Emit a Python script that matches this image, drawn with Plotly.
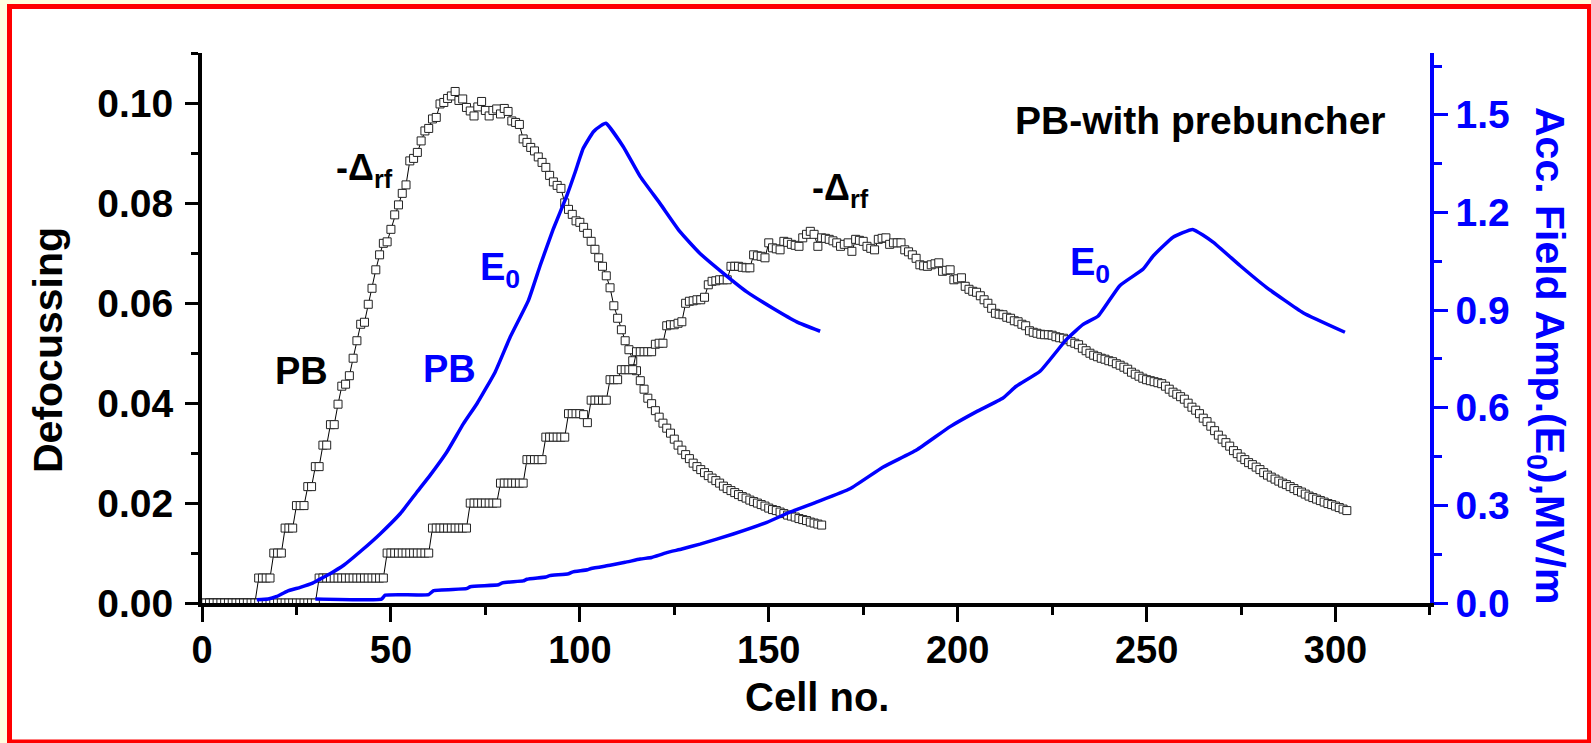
import plotly.graph_objects as go

# ---------------- data ----------------
# Defocussing (-Delta_rf), first PB case, one value per cell starting at cell 1
defoc_pb1 = [
    0, 0, 0, 0, 0, 0, 0, 0, 0, 0, 0, 0, 0, 0,
    0.005, 0.005, 0.005, 0.005,
    0.010, 0.010, 0.010,
    0.015, 0.015, 0.015,
    0.0195, 0.0195, 0.0195,
    0.0233, 0.0233,
    0.0273, 0.0273,
    0.0316, 0.0316,
    0.0357, 0.0357,
    0.0398, 0.0434, 0.0438, 0.0455, 0.0490,
    0.0525, 0.0558, 0.0562, 0.0598, 0.0630, 0.0667, 0.0697, 0.0720, 0.0723, 0.0748,
    0.0777, 0.0797, 0.0820, 0.0837, 0.0885, 0.0890, 0.0902, 0.0925, 0.0945, 0.0950,
    0.0969, 0.0972, 0.0999, 0.1002, 0.1010, 0.1015, 0.1024, 0.1006, 0.1009, 0.0992,
    0.0985, 0.0975, 0.0993, 0.1004, 0.0986, 0.0975, 0.0986, 0.0989, 0.0979, 0.0990,
    0.0984, 0.0965, 0.0962, 0.0958, 0.0929, 0.0922, 0.0912, 0.0905, 0.0893, 0.0882,
    0.0872, 0.0856, 0.0843, 0.0836, 0.0830, 0.0801, 0.0788, 0.0778, 0.0765, 0.0762,
    0.0752, 0.0740, 0.0724, 0.0708, 0.0691, 0.0674, 0.0655, 0.0631, 0.0595, 0.0570,
    0.0547, 0.0525, 0.0507, 0.0485, 0.0465, 0.0445, 0.0428, 0.0410, 0.0399, 0.0385,
    0.0372, 0.0360, 0.0350, 0.0340, 0.0328, 0.0316, 0.0306, 0.0297, 0.0289, 0.0280,
    0.0273, 0.0267, 0.0261, 0.0255, 0.0250, 0.0245, 0.0240, 0.0234, 0.0229, 0.0225,
    0.0221, 0.0217, 0.0213, 0.0210, 0.0206, 0.0203, 0.0200, 0.0197, 0.0194, 0.0190,
    0.0187, 0.0185, 0.0182, 0.0179, 0.0176, 0.0174, 0.0172, 0.0169, 0.0167, 0.0165,
    0.0162, 0.0160, 0.0158, 0.0156,
]

# Defocussing (-Delta_rf), "PB-with prebuncher" case, one value per cell starting at cell 1
defoc_pb2 = [
    0, 0, 0, 0, 0, 0, 0, 0, 0, 0, 0, 0, 0, 0, 0, 0, 0, 0, 0, 0,
    0, 0, 0, 0, 0, 0, 0, 0, 0, 0,
    0.005, 0.005, 0.005, 0.005, 0.005, 0.005, 0.005, 0.005, 0.005,
    0.005, 0.005, 0.005, 0.005, 0.005, 0.005, 0.005, 0.005, 0.005,
    0.010, 0.010, 0.010, 0.010, 0.010, 0.010, 0.010, 0.010, 0.010, 0.010, 0.010, 0.010,
    0.015, 0.015, 0.015, 0.015, 0.015, 0.015, 0.015, 0.015, 0.015, 0.015,
    0.020, 0.020, 0.020, 0.020, 0.020, 0.020, 0.020, 0.020,
    0.024, 0.024, 0.024, 0.024, 0.024, 0.024, 0.024,
    0.0287, 0.0287, 0.0287, 0.0287, 0.0287,
    0.0332, 0.0332, 0.0332, 0.0332, 0.0332, 0.0332,
    0.0379, 0.0379, 0.0379, 0.0379, 0.0377, 0.0361,
    0.0406, 0.0406, 0.0406, 0.0406, 0.0406,
    0.0447, 0.0447, 0.0447,
    0.0467, 0.0467, 0.0467, 0.0467,
    0.0503, 0.0503, 0.0503, 0.0503, 0.0503,
    0.0518, 0.0520, 0.0520,
    0.0555, 0.0557, 0.0557, 0.0560, 0.0563,
    0.0600, 0.0604, 0.0605, 0.0607, 0.0607, 0.0612,
    0.0637, 0.0644, 0.0645, 0.0647, 0.0647, 0.0647,
    0.0674, 0.0674, 0.0674, 0.0672, 0.0671, 0.0671,
    0.0697, 0.0695, 0.0694, 0.0691, 0.0721, 0.0711, 0.0709, 0.0707,
    0.0724, 0.0722, 0.0718, 0.0716, 0.0714, 0.0731, 0.0738, 0.0744, 0.0738, 0.0714,
    0.0731, 0.0730, 0.0728, 0.0725, 0.0721, 0.0714, 0.0718, 0.0721, 0.0704, 0.0728,
    0.0726, 0.0724, 0.0714, 0.0710, 0.0707, 0.0728, 0.0730, 0.0731, 0.0718, 0.0721,
    0.0721, 0.0721, 0.0707, 0.0703, 0.0697, 0.0690, 0.0677, 0.0675, 0.0674, 0.0677,
    0.0679, 0.0681, 0.0664, 0.0666, 0.0667, 0.0647, 0.0649, 0.0651, 0.0634, 0.0628,
    0.0624, 0.0622, 0.0615, 0.0607, 0.0600, 0.0590, 0.0580, 0.0578, 0.0577, 0.0572,
    0.0570, 0.0565, 0.0563, 0.0558, 0.0555, 0.0545, 0.0542, 0.0540, 0.0538, 0.0537,
    0.0537, 0.0536, 0.0533, 0.0531, 0.0530, 0.0527, 0.0523, 0.0520, 0.0517, 0.0510,
    0.0505, 0.0500, 0.0496, 0.0493, 0.0490, 0.0488, 0.0485, 0.0483, 0.0479, 0.0476,
    0.0472, 0.0468, 0.0462, 0.0458, 0.0454, 0.0450, 0.0447, 0.0445, 0.0443, 0.0441,
    0.0439, 0.0434, 0.0428, 0.0422, 0.0418, 0.0413, 0.0408, 0.0400, 0.0392, 0.0386,
    0.0379, 0.0370, 0.0363, 0.0354, 0.0345, 0.0336, 0.0328, 0.0321, 0.0314, 0.0305,
    0.0299, 0.0292, 0.0287, 0.0281, 0.0277, 0.0272, 0.0267, 0.0261, 0.0256, 0.0252,
    0.0248, 0.0244, 0.0240, 0.0237, 0.0233, 0.0229, 0.0225, 0.0222, 0.0218, 0.0214,
    0.0211, 0.0208, 0.0205, 0.0202, 0.0199, 0.0197, 0.0194, 0.0191, 0.0188, 0.0185,
]

cells_pb1 = list(range(1, len(defoc_pb1) + 1))
cells_pb2 = list(range(1, len(defoc_pb2) + 1))

# Accelerating field amplitude E0 (MV/m), first PB case
e0_pb1_cell = [14.5, 17.5, 19.8, 22.5, 26, 29.1, 31, 33.9, 37.5, 42.3, 47.2, 52.5,
               56.9, 60.4, 64.8, 69.2, 72.8, 77.6, 81.6, 86.4, 89.5, 93, 96.6, 98.8,
               100.9, 103.6, 105.5, 106.9, 111.5, 116, 121.2, 126.5, 131.8, 138,
               144.2, 151.2, 157.4, 163.6]
e0_pb1_val = [0.010, 0.012, 0.020, 0.036, 0.048, 0.060, 0.072, 0.090, 0.116, 0.162,
              0.213, 0.275, 0.341, 0.393, 0.464, 0.551, 0.613, 0.710, 0.818, 0.930,
              1.037, 1.150, 1.253, 1.325, 1.397, 1.448, 1.466, 1.474, 1.402, 1.310,
              1.228, 1.141, 1.074, 1.013, 0.956, 0.905, 0.864, 0.835]

# Accelerating field amplitude E0 (MV/m), "PB-with prebuncher" case
e0_pb2_cell = [30, 47.5, 48.5, 60, 61.3, 70, 71, 78.5, 79.5, 85, 86, 91, 92, 97, 98,
               102, 103, 108, 112, 116, 119, 121, 123, 127, 131.8, 140.6, 149.5, 155.6,
               162.6, 171.5, 180.3, 189.1, 198, 205, 212, 215.5, 221.8, 228.8, 233.2,
               237.2, 242.9, 249.1, 251.8, 257, 262.2, 267.6, 274.7, 281.7, 291.4, 302.5]
e0_pb2_val = [0.012, 0.012, 0.024, 0.026, 0.038, 0.044, 0.050, 0.056, 0.062, 0.068,
              0.073, 0.080, 0.084, 0.090, 0.095, 0.102, 0.106, 0.116, 0.125, 0.135,
              0.140, 0.147, 0.155, 0.166, 0.181, 0.212, 0.248, 0.279, 0.310, 0.351,
              0.418, 0.470, 0.542, 0.588, 0.630, 0.666, 0.712, 0.810, 0.856, 0.882,
              0.975, 1.026, 1.067, 1.124, 1.148, 1.109, 1.037, 0.970, 0.892, 0.832]

x_ticks = [0, 50, 100, 150, 200, 250, 300]
y1_ticks = [0.00, 0.02, 0.04, 0.06, 0.08, 0.10]
y2_ticks = [0.0, 0.3, 0.6, 0.9, 1.2, 1.5]

# ---------------- layout geometry ----------------
W, H = 1591, 743
L, R, T, B = 202, 1430, 53, 603
PW, PH = R - L, B - T


def px(X):
    return (X - L) / PW


def py(Y):
    return (B - Y) / PH


FONT = "Arial, Liberation Sans, sans-serif"
BLUE = "#0000FF"

fig = go.Figure()

for cells, vals in ((cells_pb1, defoc_pb1), (cells_pb2, defoc_pb2)):
    fig.add_trace(go.Scatter(
        x=cells, y=vals, mode="lines+markers", xaxis="x", yaxis="y",
        line=dict(color="black", width=1),
        marker=dict(symbol="square", size=8, color="white",
                    line=dict(color="#222222", width=1)),
        showlegend=False, hoverinfo="x+y"))

for cells, vals in ((e0_pb1_cell, e0_pb1_val), (e0_pb2_cell, e0_pb2_val)):
    fig.add_trace(go.Scatter(
        x=cells, y=vals, mode="lines", xaxis="x", yaxis="y2",
        line=dict(color=BLUE, width=3.5, shape="spline", smoothing=0.4),
        showlegend=False, hoverinfo="x+y"))

fig.update_layout(
    width=W, height=H,
    margin=dict(l=L, r=W - R, t=T, b=H - B, pad=0),
    paper_bgcolor="#FFFFE0",
    plot_bgcolor="white",
    xaxis=dict(
        range=[0, 325.01], tickvals=x_ticks, ticktext=[str(v) for v in x_ticks],
        ticks="outside", ticklen=15, tickwidth=3, tickcolor="black",
        minor=dict(dtick=25, tick0=0, ticks="outside", ticklen=8, tickwidth=3, tickcolor="black"),
        showline=True, linewidth=4, linecolor="black",
        showgrid=False, zeroline=False, ticklabelstandoff=-5,
        tickfont=dict(family=FONT, size=38, color="black", weight="bold"),
    ),
    xaxis2=dict(
        overlaying="x", side="top", anchor="y",
        range=[0, 325.01], tickvals=x_ticks, showticklabels=False,
        ticks="inside", ticklen=16, tickwidth=3, tickcolor="black",
        minor=dict(dtick=25, tick0=0, ticks="inside", ticklen=9, tickwidth=3, tickcolor="black"),
        showline=True, linewidth=4, linecolor="black",
        showgrid=False, zeroline=False,
    ),
    yaxis=dict(
        range=[0, 0.1101], tickvals=y1_ticks, ticktext=["%.2f" % v for v in y1_ticks],
        ticks="outside", ticklen=13, tickwidth=3, tickcolor="black",
        minor=dict(dtick=0.01, tick0=0, ticks="outside", ticklen=7, tickwidth=3, tickcolor="black"),
        showline=True, linewidth=4, linecolor="black",
        showgrid=False, zeroline=False, ticklabelstandoff=4,
        tickfont=dict(family=FONT, size=39, color="black", weight="bold"),
    ),
    yaxis2=dict(
        overlaying="y", side="right", anchor="x",
        range=[0, 1.69], tickvals=y2_ticks, ticktext=["%.1f" % v for v in y2_ticks],
        ticks="outside", ticklen=14, tickwidth=3, tickcolor=BLUE,
        minor=dict(dtick=0.15, tick0=0, ticks="outside", ticklen=8, tickwidth=3, tickcolor=BLUE),
        showline=True, linewidth=3.5, linecolor=BLUE,
        showgrid=False, zeroline=False,
        tickfont=dict(family=FONT, size=39, color=BLUE, weight="bold"),
    ),
    shapes=[dict(type="rect", xref="paper", yref="paper", layer="below",
                 x0=px(9.5), x1=px(1589.5), y0=py(742), y1=py(6.5),
                 line=dict(color="#FF0000", width=5), fillcolor="white")],
)


def ann(text, X, Y, size=37, color="black", angle=0):
    fig.add_annotation(text=text, x=px(X), y=py(Y), xref="paper", yref="paper",
                       showarrow=False, textangle=angle, xanchor="center", yanchor="middle",
                       font=dict(family=FONT, size=size, color=color, weight="bold"))


ann("Defocussing", 48, 350, size=41, angle=-90)
ann("Cell no.", 817, 697, size=40)
ann("Acc. Field Amp.(E<sub>0</sub>),MV/m", 1547, 355, size=41, color=BLUE, angle=90)
ann("PB-with prebuncher", 1200, 120, size=39)
ann("-Δ<sub>rf</sub>", 364, 170, size=36)
ann("-Δ<sub>rf</sub>", 840, 190, size=36)
ann("PB", 301, 371, size=38)
ann("PB", 449, 369, size=38, color=BLUE)
ann("E<sub>0</sub>", 500, 270, size=38, color=BLUE)
ann("E<sub>0</sub>", 1090, 265, size=38, color=BLUE)

fig.write_html("out.html", include_plotlyjs=True, full_html=True,
               config={"displayModeBar": False},
               post_script="document.body.style.margin='0';document.body.style.overflow='hidden';")
